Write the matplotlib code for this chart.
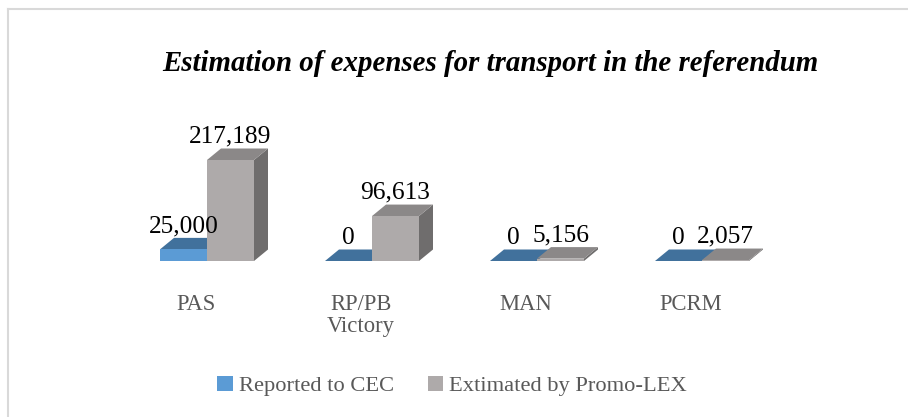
import matplotlib
matplotlib.use("Agg")
import matplotlib.pyplot as plt
from matplotlib.patches import Polygon, Patch
from matplotlib.lines import Line2D

# ---- data ----
categories = ["PAS", "RP/PB\nVictory", "MAN", "PCRM"]
reported = [25000, 0, 0, 0]
estimated = [217189, 96613, 5156, 2057]
series_names = ["Reported to CEC", "Extimated by Promo-LEX"]
title = "Estimation of expenses for transport in the referendum"

# ---- style ----
W, H, DPI = 908, 417, 100
FONT = "Liberation Serif"
blue_front, blue_top, blue_side = "#5B9BD5", "#41719C", "#3C6A94"
gray_front, gray_top, gray_side = "#AEAAAA", "#8B8888", "#6F6D6D"
text_gray = "#595959"

fig = plt.figure(figsize=(W / DPI, H / DPI), dpi=DPI)
ax = fig.add_axes([0, 0, 1, 1])
ax.set_axis_off()

# pixel layout: category spacing 165 px, boundary of first group at x=207 px,
# baseline at 261 px from top, 217189 -> 101 px
cat_px = 165.0
x0_px = 207.0
base_px = H - 261.0
val_per_px = 217189 / 101.0
ax.set_xlim(-x0_px / cat_px, (W - x0_px) / cat_px)
ax.set_ylim(-base_px * val_per_px, (H - base_px) * val_per_px)

px_x = 1.0 / cat_px
px_y = val_per_px
bw = 47 * px_x
dx, dy = 14 * px_x, 11.5 * px_y


def bar3d(left, h, front, top, side):
    right = left + bw
    ax.add_patch(Polygon([(right, 0), (right + dx, dy), (right + dx, h + dy), (right, h)],
                         closed=True, facecolor=side, edgecolor="none"))
    ax.add_patch(Polygon([(left, h), (right, h), (right + dx, h + dy), (left + dx, h + dy)],
                         closed=True, facecolor=top, edgecolor="none"))
    if h > 0:
        ax.bar(left, h, width=bw, align="edge", color=front, edgecolor="none")


for i in range(len(categories)):
    bar3d(i - bw, reported[i], blue_front, blue_top, blue_side)
    bar3d(i, estimated[i], gray_front, gray_top, gray_side)

for i in range(len(categories)):
    for left, v in ((i - bw, reported[i]), (i, estimated[i])):
        ax.annotate(f"{v:,}", xy=(left + bw / 2, v), xytext=(0, 12.5),
                    textcoords="offset points", ha="center", va="baseline",
                    fontsize=18.3, family=FONT, color="black")
    ax.annotate(categories[i], xy=(i - 11 * px_x, 0), xytext=(0, -23.5),
                textcoords="offset points", ha="center", va="top",
                fontsize=16.3, family=FONT, color=text_gray, linespacing=1.1)

fig.text(490 / W, 1 - 71 / H, title, ha="center", va="baseline",
         fontsize=20.8, family=FONT, weight="bold", style="italic", color="black")

handles = [Patch(facecolor=blue_front, edgecolor="none"),
           Patch(facecolor=gray_front, edgecolor="none")]
leg = fig.legend(handles, series_names, loc="center", bbox_to_anchor=(452 / W, 1 - 386 / H),
                 ncol=2, frameon=False, handlelength=0.7, handleheight=0.7,
                 handletextpad=0.25, columnspacing=1.5,
                 prop={"family": FONT, "size": 16.2})
for t in leg.get_texts():
    t.set_color(text_gray)

# outer frame (left and top edges visible)
fig.add_artist(Line2D([8 / W, 8 / W], [0, 1 - 9 / H], transform=fig.transFigure,
                      color="#D9D9D9", lw=1.5))
fig.add_artist(Line2D([8 / W, 1], [1 - 9 / H, 1 - 9 / H], transform=fig.transFigure,
                      color="#D9D9D9", lw=1.5))

fig.savefig("out.png", dpi=DPI, facecolor="white")
